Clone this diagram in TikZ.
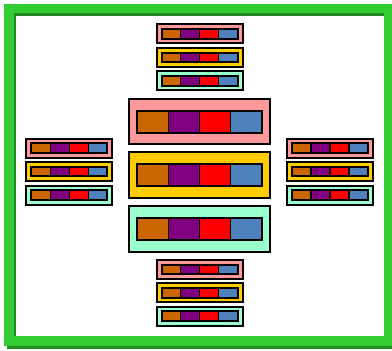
\documentclass[tikz,border=0pt]{standalone}
\usetikzlibrary{shadows}
\definecolor{cPink}{RGB}{255,153,153}
\definecolor{cYel}{RGB}{255,204,0}
\definecolor{cMint}{RGB}{153,255,204}
\definecolor{cOra}{RGB}{204,102,0}
\definecolor{cPur}{RGB}{128,0,128}
\definecolor{cRed}{RGB}{255,0,0}
\definecolor{cBlu}{RGB}{79,129,189}
\definecolor{cLime}{RGB}{50,205,50}
\definecolor{cForest}{RGB}{34,139,34}
\tikzset{
  outerbox/.style={draw=black, line width=2pt, inner sep=0pt, outer sep=0pt,
    drop shadow={shadow xshift=1pt, shadow yshift=-1pt, fill=gray, opacity=0.7}},
  cellbox/.style={draw=black, line width=1.3pt, inner sep=0pt, outer sep=0pt},
  barbox/.style={draw=black, line width=2pt, inner sep=0pt, outer sep=0pt},
  framebright/.style={draw=cLime, line width=9.5pt},
  frameshadow/.style={draw=cForest, line width=9.5pt},
}
% name, cx, cy, W, H, fill, bw, bh
\newcommand\unitbox[8]{%
  \node[outerbox, fill=#6, minimum width=#4pt, minimum height=#5pt] (#1) at (#2,#3) {};
  \foreach \c [count=\i from 0] in {cOra,cPur,cRed,cBlu}{
    \node[cellbox, fill=\c, minimum width={#7pt/4}, minimum height=#8pt, anchor=west]
      (#1-\i) at (#2-#7/2+\i*#7/4,#3) {};
  }
  \node[barbox, minimum width=#7pt, minimum height=#8pt] (#1-bar) at (#2,#3) {};
}
\newcommand\bigunit[4]{\unitbox{#1}{#2}{#3}{141}{45.5}{#4}{125}{22}}
\newcommand\smallunit[4]{\unitbox{#1}{#2}{#3}{86}{19}{#4}{76}{9.5}}
\begin{document}
\begin{tikzpicture}[x=1pt,y=-1pt]
\useasboundingbox (0,0) rectangle (392,351);
\fill[white] (0,0) rectangle (392,351);
\draw[frameshadow] (11.5,11.5) rectangle (391.5,344);
\draw[framebright] (9,8.5) rectangle (389,341);
% central big units
\bigunit{bp}{199.5}{121.5}{cPink}
\bigunit{by}{199.5}{175.2}{cYel}
\bigunit{bm}{199.5}{229.2}{cMint}
% top
\smallunit{tp}{199.5}{33.8}{cPink}
\smallunit{ty}{199.5}{57.7}{cYel}
\smallunit{tm}{199.5}{80.8}{cMint}
% bottom
\smallunit{dp}{199.5}{269.5}{cPink}
\smallunit{dy}{199.5}{292.8}{cYel}
\smallunit{dm}{199.5}{316}{cMint}
% left
\smallunit{lp}{69.2}{148.2}{cPink}
\smallunit{ly}{69.2}{171.7}{cYel}
\smallunit{lm}{69.2}{195.2}{cMint}
% right
\smallunit{rp}{330}{148.2}{cPink}
\smallunit{ry}{330}{171.7}{cYel}
\smallunit{rm}{330}{195.2}{cMint}
\end{tikzpicture}
\end{document}
